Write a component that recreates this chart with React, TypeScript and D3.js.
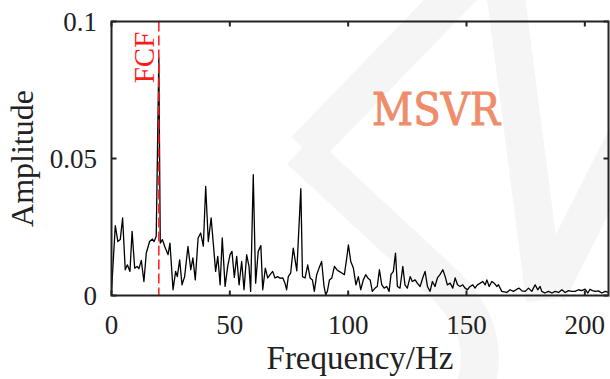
import React from "react";
import * as d3 from "d3";

const freqs: number[] = [
  0, 1.6, 2.7, 3.7, 4.7, 5.8, 6.7, 7.8, 8.7, 9.8,
  10.8, 11.6, 12.6, 13.7, 14.7, 16.1, 17.3, 18.0, 18.9, 20.0,
  20.6, 21.5, 22.5, 23.9, 24.7, 26.0, 27.1, 27.8, 28.8, 29.8,
  30.9, 32.3, 33.5, 34.4, 35.4, 36.6, 37.7, 38.8, 39.8, 40.9,
  42.1, 43.0, 44.0, 44.9, 45.9, 46.8, 48.0, 49.1, 50.1, 50.9,
  51.9, 52.9, 53.9, 55.0, 56.0, 57.1, 58.1, 58.8, 59.9, 60.9,
  62.0, 63.1, 63.9, 65.0, 66.0, 67.0, 68.1, 69.1, 70.2, 71.2,
  72.4, 73.3, 74.0, 74.7, 75.7, 76.8, 78.3, 80.0, 80.7, 81.8,
  82.9, 83.9, 84.9, 85.7, 86.7, 87.7, 88.8, 89.8, 90.5, 91.2,
  92.1, 93.1, 94.2, 95.2, 96.2, 97.3, 98.4, 99.4, 100.1, 101.1,
  102.2, 103.3, 104.3, 105.3, 106.4, 107.4, 108.3, 109.3, 110.2, 111.4,
  112.3, 113.2, 114.2, 115.2, 116.3, 117.3, 118.1, 119.1, 120.0, 120.8,
  121.9, 123.1, 124.0, 125.0, 126.2, 127.1, 128.3, 129.2, 130.4, 131.5,
  132.5, 133.5, 134.6, 135.6, 136.7, 137.7, 138.8, 140.0, 141.0, 141.9,
  143.1, 144.2, 145.2, 146.2, 147.3, 148.4, 149.4, 150.4, 151.5, 152.7,
  153.6, 154.6, 155.8, 156.9, 157.9, 158.6, 159.6, 160.7, 161.7, 162.8,
  163.5, 164.9, 167.0, 168.4, 169.8, 171.3, 172.2, 173.4, 174.8, 176.2,
  177.6, 179.0, 180.1, 181.1, 181.8, 183.1, 184.6, 186.1, 187.4, 188.9,
  190.3, 191.7, 193.1, 194.5, 195.9, 197.3, 198.7, 200.1, 201.3, 202.2,
  203.2, 204.4, 205.7, 207.2, 208.6, 210,
];

const amplitudes: number[] = [
  0.0015, 0.0255, 0.0197, 0.0204, 0.0283, 0.0094, 0.0112, 0.0088, 0.0234, 0.01,
  0.0106, 0.0098, 0.0128, 0.0051, 0.0155, 0.0197, 0.0206, 0.0197, 0.0216, 0.0867,
  0.0191, 0.0204, 0.0179, 0.0149, 0.0191, 0.0021, 0.0088, 0.0069, 0.013, 0.0039,
  0.0069, 0.0179, 0.0094, 0.0137, 0.0057, 0.021, 0.0228, 0.018, 0.0398, 0.0197,
  0.0283, 0.0191, 0.0088, 0.0143, 0.0039, 0.021, 0.0033, 0.0106, 0.0149, 0.0161,
  0.0066, 0.0143, 0.0039, 0.0124, 0.0021, 0.0149, 0.0106, 0.0015, 0.0441, 0.0045,
  0.0161, 0.0182, 0.0021, 0.01, 0.0064, 0.0076, 0.0088, 0.0064, 0.0069, 0.0063,
  0.0064, 0.0045, 0.0021, 0.0069, 0.0082, 0.0173, 0.009, 0.039, 0.0069, 0.0064,
  0.0112, 0.0064, 0.0057, 0.0015, 0.0076, 0.01, 0.0124, 0.0033, 0.0003, 0.0015,
  0.0057, 0.0064, 0.0106, 0.0094, 0.0088, 0.0082, 0.0076, 0.0137, 0.0185, 0.0124,
  0.01, 0.0039, 0.0069, 0.0021, 0.0057, 0.0076, 0.0064, 0.0057, 0.0015, 0.0027,
  0.0033, 0.0094, 0.0039, 0.0027, 0.0033, 0.0015, 0.0076, 0.0088, 0.0155, 0.0033,
  0.0027, 0.0106, 0.0039, 0.0027, 0.0069, 0.0051, 0.0057, 0.0045, 0.0033, 0.0064,
  0.0088, 0.0033, 0.0015, 0.0051, 0.0033, 0.0064, 0.0076, 0.0094, 0.0069, 0.0039,
  0.0045, 0.0027, 0.0064, 0.0039, 0.0033, 0.0039, 0.0027, 0.0021, 0.0033, 0.0039,
  0.0027, 0.0039, 0.0045, 0.0051, 0.0039, 0.0057, 0.0033, 0.0051, 0.0045, 0.0033,
  0.0039, 0.0015, 0.0011, 0.0021, 0.0015, 0.0023, 0.0027, 0.0017, 0.0015, 0.0027,
  0.0015, 0.0039, 0.0021, 0.0033, 0.0015, 0.0009, 0.0015, 0.0009, 0.0015, 0.0011,
  0.0021, 0.0011, 0.0018, 0.0015, 0.0015, 0.0021, 0.0018, 0.0023, 0.0009, 0.0023,
  0.0018, 0.0015, 0.0017, 0.0009, 0.0015, 0.0011,
];

const xTicks: number[] = [0, 50, 100, 150, 200];
const yTicks: number[] = [0, 0.05, 0.1];
const yTickLabels: string[] = ["0", "0.05", "0.1"];
const markerFreq = 20;
const markerLabel = "FCF";
const methodLabel = "MSVR";
const xLabel = "Frequency/Hz";
const yLabel = "Amplitude";

const W = 610;
const H = 379;
const M = { left: 111.5, right: 608.5, top: 21.5, bottom: 295.5 };
const SERIF = "'Liberation Serif', 'Times New Roman', serif";
const TXT = "#222";

export default function App() {
  const x = d3.scaleLinear().domain([0, 210]).range([M.left, M.right]);
  const y = d3.scaleLinear().domain([0, 0.1]).range([M.bottom, M.top]);
  const data = freqs.map((f, i) => [f, amplitudes[i]] as [number, number]);
  const line = d3
    .line<[number, number]>()
    .x((d) => x(d[0]))
    .y((d) => y(d[1]));

  const wm = "#f5f5f5";
  return (
    <svg
      width={W}
      height={H}
      style={{ position: "absolute", left: 0, top: 0, background: "#fff" }}
    >
      {/* faint watermark */}
      <g fill="none" stroke={wm} strokeWidth={38}>
        <path d="M470 -20 L305 150" />
        <path d="M300 150 L440 280 Q500 335 470 400" />
        <path d="M505 -10 L545 300" />
        <path d="M630 130 L548 292" />
      </g>
      <defs>
        <clipPath id="plotclip">
          <rect x={M.left} y={M.top - 2} width={M.right - M.left} height={M.bottom - M.top + 2} />
        </clipPath>
      </defs>
      {/* spectrum */}
      <path
        d={line(data) || ""}
        fill="none"
        stroke="#000"
        strokeWidth={1.3}
        strokeLinejoin="round"
        clipPath="url(#plotclip)"
      />
      {/* marker line */}
      <line
        x1={x(markerFreq)}
        x2={x(markerFreq)}
        y1={M.top}
        y2={M.bottom}
        stroke="#ff1a1a"
        strokeWidth={1.5}
        strokeDasharray="10,4"
      />
      <text
        transform={`translate(${x(markerFreq) - 5},${M.top + 36}) rotate(-90)`}
        textAnchor="middle"
        fontFamily={SERIF}
        fontSize={29}
        fill="#ff1a1a"
      >
        {markerLabel}
      </text>
      {/* frame */}
      <rect
        x={M.left}
        y={M.top}
        width={M.right - M.left}
        height={M.bottom - M.top}
        fill="none"
        stroke="#222"
        strokeWidth={2}
      />
      {xTicks.map((t) => (
        <g key={"x" + t}>
          <line x1={x(t)} x2={x(t)} y1={M.bottom} y2={M.bottom - 5} stroke="#222" strokeWidth={2} />
          <line x1={x(t)} x2={x(t)} y1={M.top} y2={M.top + 5} stroke="#222" strokeWidth={2} />
          <text
            x={x(t)}
            y={334}
            textAnchor="middle"
            fontFamily={SERIF}
            fontSize={27}
            fill={TXT}
          >
            {t}
          </text>
        </g>
      ))}
      {yTicks.map((t, i) => (
        <g key={"y" + t}>
          <line x1={M.left} x2={M.left + 5} y1={y(t)} y2={y(t)} stroke="#222" strokeWidth={2} />
          <line x1={M.right} x2={M.right - 5} y1={y(t)} y2={y(t)} stroke="#222" strokeWidth={2} />
          <text
            x={97}
            y={y(t) + 9}
            textAnchor="end"
            fontFamily={SERIF}
            fontSize={27}
            fill={TXT}
          >
            {yTickLabels[i]}
          </text>
        </g>
      ))}
      <text
        x={360}
        y={369}
        textAnchor="middle"
        fontFamily={SERIF}
        fontSize={33}
        fill={TXT}
      >
        {xLabel}
      </text>
      <text
        transform={`translate(33,${(M.top + M.bottom) / 2}) rotate(-90)`}
        textAnchor="middle"
        fontFamily={SERIF}
        fontSize={32}
        fill={TXT}
      >
        {yLabel}
      </text>
      <text
        x={372}
        y={125}
        textLength={128}
        lengthAdjust="spacingAndGlyphs"
        fontFamily="'DejaVu Serif', serif"
        fontSize={45}
        stroke="#ef8c6a"
        strokeWidth={0.9}
        fill="#ef8c6a"
      >
        {methodLabel}
      </text>
    </svg>
  );
}
